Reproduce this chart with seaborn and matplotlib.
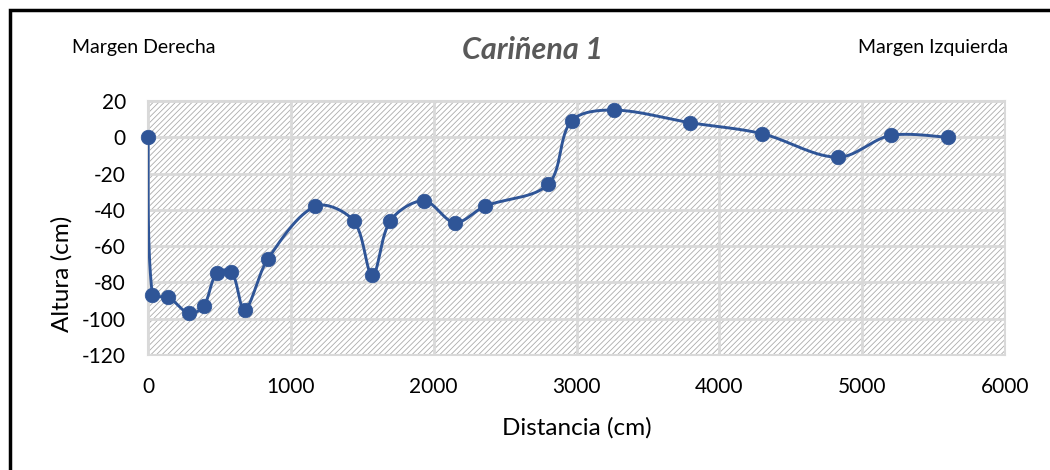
import numpy as np
import pandas as pd
import matplotlib
matplotlib.use("Agg")
import matplotlib.pyplot as plt
from matplotlib.patches import Rectangle
import seaborn as sns

# Cross-section survey: horizontal distance vs. bed height
distancia_cm = [0, 31, 140, 287, 390, 480, 584, 677, 840, 1172, 1440, 1571,
                1697, 1931, 2148, 2360, 2801, 2965, 3261, 3798, 4298, 4828, 5199, 5600]
altura_cm = [0, -87, -88, -97, -93, -75, -74, -95, -67, -38, -46, -76,
             -46, -35, -47, -38, -26, 9, 15, 8, 2, -11, 1, 0]

x_ticks = [0, 1000, 2000, 3000, 4000, 5000, 6000]
y_ticks = [20, 0, -20, -40, -60, -80, -100, -120]

titulo = "Cariñena 1"
margen_izq_label = "Margen Derecha"
margen_der_label = "Margen Izquierda"
x_label = "Distancia (cm)"
y_label = "Altura (cm)"

LINE_COLOR = "#2F5597"
GRID_COLOR = "#D9D9D9"
HATCH_COLOR = "#ABABAB"
FONT = ["Lato", "DejaVu Sans"]

sns.set_theme(style="white")
plt.rcParams["font.family"] = FONT
plt.rcParams["hatch.linewidth"] = 0.6

W, H = 1050, 470
X_LIM = (0, 6000)
Y_LIM = (-120, 20)
AX_BOX = (148, 101, 1005, 355)  # left, top, right, bottom in pixels


def smooth_curve(xs, ys, sx, sy, steps=30):
    """Piecewise cubic Bezier through the points; tangents are scaled by
    the neighbouring chord lengths (measured in display units sx, sy)."""
    p = np.column_stack([xs, ys]).astype(float)
    q = p * np.array([sx, sy])
    n = len(p)
    d = np.hypot(*np.diff(q, axis=0).T)
    out = [p[0]]
    t = np.linspace(0, 1, steps)[1:, None]
    for i in range(n - 1):
        if i > 0:
            tan0 = (p[i + 1] - p[i - 1]) * d[i] / (d[i - 1] + d[i])
        else:
            tan0 = (p[i + 1] - p[i]) / 2.0
        if i + 2 < n:
            tan1 = (p[i + 2] - p[i]) * d[i] / (d[i] + d[i + 1])
        else:
            tan1 = (p[i + 1] - p[i]) / 2.0
        c1 = p[i] + tan0 / 3.0
        c2 = p[i + 1] - tan1 / 3.0
        seg = ((1 - t) ** 3) * p[i] + 3 * ((1 - t) ** 2) * t * c1 \
            + 3 * (1 - t) * t ** 2 * c2 + t ** 3 * p[i + 1]
        out.extend(seg)
    out = np.array(out)
    return out[:, 0], out[:, 1]


df = pd.DataFrame({"Distancia": distancia_cm, "Altura": altura_cm})
px_per_x = (AX_BOX[2] - AX_BOX[0]) / (X_LIM[1] - X_LIM[0])
px_per_y = (AX_BOX[3] - AX_BOX[1]) / (Y_LIM[1] - Y_LIM[0])
cx, cy = smooth_curve(df["Distancia"].values, df["Altura"].values, px_per_x, px_per_y)
curve = pd.DataFrame({"Distancia": cx, "Altura": cy})

fig = plt.figure(figsize=(W / 100, H / 100), dpi=100)
ax = fig.add_axes([AX_BOX[0] / W, 1 - AX_BOX[3] / H,
                   (AX_BOX[2] - AX_BOX[0]) / W, (AX_BOX[3] - AX_BOX[1]) / H])

# hatched plot area
ax.add_patch(Rectangle((0, 0), 1, 1, transform=ax.transAxes, facecolor="white",
                       edgecolor=HATCH_COLOR, hatch="//////", linewidth=0, zorder=0.1))
ax.set_axisbelow(True)
ax.grid(True, color=GRID_COLOR, linewidth=2.0, zorder=0.5)

sns.lineplot(data=curve, x="Distancia", y="Altura", sort=False, estimator=None,
             color=LINE_COLOR, linewidth=2.1, ax=ax, zorder=3)
sns.scatterplot(data=df, x="Distancia", y="Altura", color=LINE_COLOR, s=110,
                edgecolor=LINE_COLOR, linewidth=0.5, ax=ax, zorder=4, clip_on=False)

ax.set_xlim(*X_LIM)
ax.set_ylim(*Y_LIM)
ax.set_xticks(x_ticks)
ax.set_yticks(y_ticks)
ax.set_xticklabels([str(v) for v in x_ticks])
ax.set_yticklabels([str(v) for v in y_ticks])
ax.tick_params(axis="both", length=0, labelsize=15, colors="black")
ax.tick_params(axis="x", pad=16)
ax.tick_params(axis="y", pad=16)
ax.set_xlabel("")
ax.set_ylabel("")
for s in ax.spines.values():
    s.set_color(GRID_COLOR)
    s.set_linewidth(1.5)

fig.text(577 / W, 1 - 428 / H, x_label, ha="center", va="center", fontsize=17.5, color="black")
fig.text(62 / W, 1 - 274 / H, y_label, ha="center", va="center", rotation=90,
         fontsize=17.5, color="black")
fig.text(533 / W, 1 - 50 / H, titulo, ha="center", va="center", fontsize=22,
         fontweight="bold", fontstyle="italic", color="#595959")
fig.text(72 / W, 1 - 47 / H, margen_izq_label, ha="left", va="center", fontsize=14,
         color="black")
fig.text(1008 / W, 1 - 47 / H, margen_der_label, ha="right", va="center", fontsize=14,
         color="black")

# outer chart frame
fig.add_artist(Rectangle((9.5 / W, -0.1), 1.2, 1 - 9.5 / H + 0.1, transform=fig.transFigure,
                         facecolor="none", edgecolor="black", linewidth=2.5))

fig.savefig("out.png", dpi=100)
